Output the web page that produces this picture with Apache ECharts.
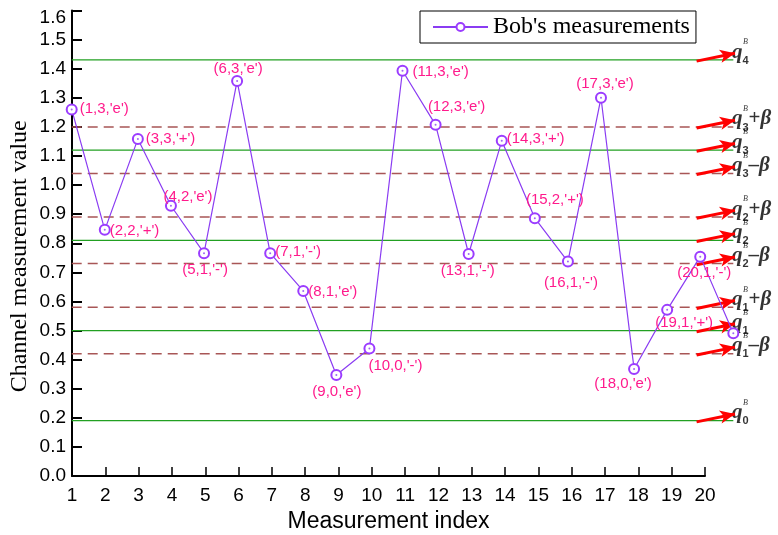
<!DOCTYPE html>
<html><head><meta charset="utf-8">
<script src="https://cdn.jsdelivr.net/npm/echarts@6/dist/echarts.min.js"></script>
<style>html,body{margin:0;padding:0;background:#fff}#c{width:778px;height:535px}</style>
</head><body><div id="c"></div>
<script>
// ---- data ----
const measurementIndex = [1,2,3,4,5,6,7,8,9,10,11,12,13,14,15,16,17,18,19,20,21];
const measurements = [1.26,0.846,1.158,0.929,0.766,1.358,0.766,0.636,0.347,0.438,1.393,1.207,0.763,1.152,0.886,0.737,1.300,0.368,0.571,0.754,0.491];
const pointLabels = ["(1,3,'e')","(2,2,'+')","(3,3,'+')","(4,2,'e')","(5,1,'-')","(6,3,'e')","(7,1,'-')","(8,1,'e')","(9,0,'e')","(10,0,'-')","(11,3,'e')","(12,3,'e')","(13,1,'-')","(14,3,'+')","(15,2,'+')","(16,1,'-')","(17,3,'e')","(18,0,'e')","(19,1,'+')","(20,1,'-')"];
const qLevels = [0.19,0.50,0.81,1.12,1.43];
const qLevelIdx = ['0','1','2','3','4'];
const betaLevels = [0.42,0.58,0.73,0.89,1.04,1.20];
const betaLevelIdx = ['1','1','2','2','3','3'];
const betaLevelSign = ['–','+','–','+','–','+'];
const xTickLabels = ['1','2','3','4','5','6','7','8','9','10','11','12','13','14','15','16','17','18','19','20'];
const yTickLabels = ['0.0','0.1','0.2','0.3','0.4','0.5','0.6','0.7','0.8','0.9','1.0','1.1','1.2','1.3','1.4','1.5','1.6'];

// ---- label placement (style only): [align, dx, dy] from point centre ----
const labelPlace = [
 ['left',9,0],['left',6,2],['left',9,1],['center',18,-8],['center',2,18],
 ['center',2,-11],['left',6,0],['left',6,2],['center',1.5,18],['center',27,18],
 ['left',11,2],['center',22,-17],['center',0,18],['left',6,-1],['center',21,-17],
 ['center',4,22],['center',5,-13],['center',-10,16],['center',18,14],['center',5,17]
];

const lineColor = '#8a3cf2';
const pink = '#ff1a8c';
const green = '#22a022';
const brown = '#a85656';
const serif = '"Liberation Serif", "DejaVu Serif", serif';
const sans = '"Liberation Sans", Arial, sans-serif';

const ARROW_X0 = 19.89, ARROW_X1 = 21.05, ARROW_RISE = 0.027, OV_XMIN = 1, OV_XMAX = 22;

const mainData = measurements.map((v, i) => {
  const item = { value: [measurementIndex[i], v] };
  if (i < pointLabels.length) {
    const p = labelPlace[i];
    item.label = {
      show: true, formatter: pointLabels[i], color: pink, fontFamily: sans, fontSize: 15,
      position: [5 + p[1], 5 + p[2]], align: p[0], verticalAlign: 'middle'
    };
  }
  return item;
});

const series = [];
qLevels.forEach(v => series.push({
  type: 'line', xAxisIndex: 1, yAxisIndex: 1, data: [[OV_XMIN, v], [ARROW_X1 - 0.05, v]],
  symbol: 'none', silent: true, lineStyle: { color: green, width: 1.3 }, z: 2
}));
betaLevels.forEach(v => series.push({
  type: 'line', xAxisIndex: 1, yAxisIndex: 1, data: [[OV_XMIN, v], [ARROW_X1 - 0.05, v]],
  symbol: 'none', silent: true, lineStyle: { color: brown, width: 1.5, type: [10, 6] }, z: 2
}));
const allLevels = qLevels.concat(betaLevels);
series.push({
  type: 'line', xAxisIndex: 1, yAxisIndex: 1, data: [], silent: true,
  markLine: {
    silent: true, symbol: ['none', 'arrow'], symbolSize: [10, 15], animation: false,
    label: { show: false }, lineStyle: { color: '#ff0000', width: 3, type: 'solid' },
    data: allLevels.map(v => [{ coord: [ARROW_X0, v - 0.004] }, { coord: [ARROW_X1, v + ARROW_RISE - 0.004] }])
  }, z: 3
});
const qRich = {
  q: { fontFamily: serif, fontSize: 21, fontStyle: 'italic', fontWeight: 'bold', color: '#000', lineHeight: 28, verticalAlign: 'middle' },
  s: { fontFamily: sans, fontSize: 11, fontWeight: 'bold', color: '#000', lineHeight: 12, verticalAlign: 'bottom' },
  pm: { fontFamily: serif, fontSize: 21, fontWeight: 'bold', color: '#000', lineHeight: 28, verticalAlign: 'middle' },
  b: { fontFamily: serif, fontSize: 21, fontStyle: 'italic', fontWeight: 'bold', color: '#000', lineHeight: 28, verticalAlign: 'middle' }
};
const qLabelData = qLevels.map((v, i) => ({ value: [ARROW_X1, v + ARROW_RISE], label: { formatter: '{q|q}{s|' + qLevelIdx[i] + '}' } }))
  .concat(betaLevels.map((v, i) => ({ value: [ARROW_X1, v + ARROW_RISE], label: { formatter: '{q|q}{s|' + betaLevelIdx[i] + '}{pm|' + betaLevelSign[i] + '}{b|β}' } })));
series.push({
  type: 'scatter', xAxisIndex: 1, yAxisIndex: 1, symbolSize: 0, silent: true, data: qLabelData, z: 4,
  label: { show: true, position: 'right', distance: -3, rich: qRich }
});
series.push({
  type: 'scatter', xAxisIndex: 1, yAxisIndex: 1, symbolSize: 0, silent: true, z: 4,
  data: allLevels.map(v => [ARROW_X1, v + ARROW_RISE]),
  label: { show: true, position: 'right', distance: -3, offset: [11, -10], formatter: 'B',
    fontFamily: serif, fontSize: 8, fontStyle: 'italic', color: '#000' }
});
series.push({
  name: "Bob's measurements", type: 'line', xAxisIndex: 1, yAxisIndex: 1, data: mainData,
  symbol: 'emptyCircle', symbolSize: 10, showAllSymbol: true,
  itemStyle: { color: '#9b3cff', borderWidth: 1.2 },
  lineStyle: { color: lineColor, width: 1.2 }, z: 5
});
series.push({
  type: 'scatter', xAxisIndex: 1, yAxisIndex: 1, silent: true,
  data: measurements.map((v, i) => [measurementIndex[i], v]),
  symbolSize: 2, itemStyle: { color: lineColor }, z: 6
});

const option = {
  animation: false,
  backgroundColor: '#fff',
  grid: [
    { left: 72, top: 10.5, width: 633, height: 465.5, outerBoundsMode: 'none', containLabel: false },
    { left: 71.7, top: 10.5, width: 694.7, height: 465.5, outerBoundsMode: 'none', containLabel: false }
  ],
  legend: {
    data: ["Bob's measurements"], left: 420, top: 11, orient: 'horizontal',
    borderColor: '#000', borderWidth: 1, padding: [4, 6, 4, 12],
    itemWidth: 55, itemHeight: 10,
    textStyle: { fontFamily: serif, fontSize: 24, color: '#000' }
  },
  xAxis: [
    { type: 'value', gridIndex: 0, min: 1, max: 20, interval: 1,
      name: 'Measurement index', nameLocation: 'middle', nameGap: 34,
      nameTextStyle: { fontFamily: sans, fontSize: 23, color: '#000' },
      axisLine: { lineStyle: { color: '#000', width: 2 } },
      axisTick: { inside: true, length: 9, lineStyle: { color: '#000', width: 1.5 } },
      axisLabel: { fontFamily: sans, fontSize: 19, color: '#000', margin: 10, hideOverlap: false,
        formatter: v => xTickLabels[Math.round(v) - 1] },
      splitLine: { show: false } },
    { type: 'value', gridIndex: 1, min: OV_XMIN, max: OV_XMAX, show: false }
  ],
  yAxis: [
    { type: 'value', gridIndex: 0, min: 0, max: 1.6, interval: 0.1,
      name: 'Channel measurement value', nameLocation: 'middle', nameGap: 40, nameMoveOverlap: false,
      nameTextStyle: { fontFamily: serif, fontSize: 24, color: '#000', padding: [0, 26, 0, 0] },
      axisLine: { lineStyle: { color: '#000', width: 2 } },
      axisTick: { inside: true, length: 10, lineStyle: { color: '#000', width: 2 } },
      axisLabel: { fontFamily: sans, fontSize: 19, color: '#000', margin: 6, hideOverlap: false,
        formatter: v => { const s = yTickLabels[Math.round(v * 10)]; return Math.round(v * 10) === 16 ? '{t|' + s + '}' : s; },
        rich: { t: { fontFamily: sans, fontSize: 19, color: '#000', padding: [14, 0, 0, 0] } } },
      splitLine: { show: false } },
    { type: 'value', gridIndex: 1, min: 0, max: 1.6, show: false }
  ],
  series: series
};
const chart = echarts.init(document.getElementById('c'), null, { renderer: 'canvas' });
chart.setOption(option);
</script>
</body></html>
